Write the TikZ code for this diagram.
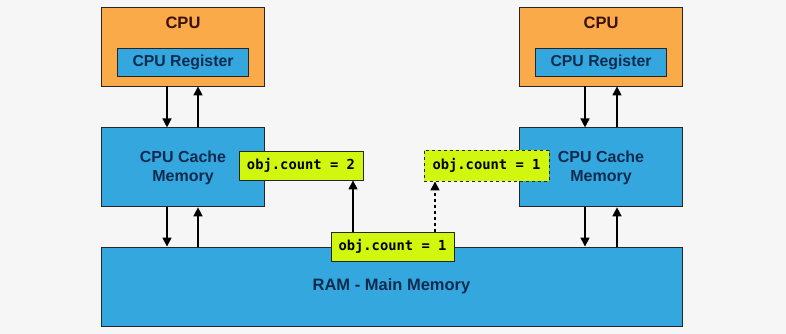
\documentclass[tikz,border=0pt]{standalone}
\usepackage{fontspec}
\setmainfont{Liberation Sans}
\newfontfamily\codefont{DejaVu Sans Mono}
\usetikzlibrary{positioning, arrows.meta}

\definecolor{bgray}{HTML}{F6F6F6}
\definecolor{cpuorange}{HTML}{FAAA48}
\definecolor{memblue}{HTML}{34A8DE}
\definecolor{codelime}{HTML}{D2F70F}
\definecolor{navy}{HTML}{0E2B4F}
\definecolor{maroon}{HTML}{3A1010}

\begin{document}
\begin{tikzpicture}[
    x=1pt, y=1pt,
    box/.style = {rectangle, draw=black!85, line width=0.9pt, align=center, inner sep=0pt},
    cpu/.style = {box, fill=cpuorange, minimum width=163pt, minimum height=79pt},
    mem/.style = {box, fill=memblue, text=navy, font=\fontsize{16}{19}\selectfont\bfseries},
    cache/.style = {mem, minimum width=163pt, minimum height=79pt},
    reg/.style = {mem, minimum width=131pt, minimum height=28pt, font=\fontsize{15.8}{18}\selectfont\bfseries},
    code/.style = {box, fill=codelime, minimum width=124pt, minimum height=29pt, font=\codefont\fontsize{13.8}{16}\selectfont\bfseries},
    arrow/.style = {-{Triangle[length=9pt, width=9pt]}, line width=1.5pt}
]
    \useasboundingbox[fill=bgray] (0,0) rectangle (786,334);

    % processors
    \node[cpu] (CPUL) at (183,287.5) {};
    \node[reg] (REGL) at (183,272) {CPU Register};
    \node[font=\fontsize{16.5}{18}\selectfont\bfseries, text=maroon] at (183,311) {CPU};

    \node[cpu] (CPUR) at (601,287.5) {};
    \node[reg] (REGR) at (601,272) {CPU Register};
    \node[font=\fontsize{16.5}{18}\selectfont\bfseries, text=maroon] at (601,311) {CPU};

    % caches and main memory
    \node[cache, below=41pt of CPUL] (CACHEL) {CPU Cache\\Memory};
    \node[cache, below=41pt of CPUR] (CACHER) {CPU Cache\\Memory};
    \node[mem, minimum width=581pt, minimum height=79pt, font=\fontsize{16.5}{19}\selectfont\bfseries] (RAM) at (391.5,47.5) {RAM - Main Memory};

    % copies of the shared value
    \node[code] (OBJL) at (301,168.5) {obj.count = 2};
    \node[code, dashed, minimum width=125pt, minimum height=31pt] (OBJR) at (486.5,168.5) {obj.count = 1};
    \node[code, minimum width=123pt] (OBJM) at (392.5,87.5) {obj.count = 1};

    \draw[arrow] ([xshift=-16pt]CPUL.south) -- ([xshift=-16pt]CACHEL.north);
    \draw[arrow] ([xshift=15pt]CACHEL.north) -- ([xshift=15pt]CPUL.south);
    \draw[arrow] ([xshift=-16pt]CPUR.south) -- ([xshift=-16pt]CACHER.north);
    \draw[arrow] ([xshift=16pt]CACHER.north) -- ([xshift=16pt]CPUR.south);

    \draw[arrow] ([xshift=-16pt]CACHEL.south) -- ([xshift=-16pt]CACHEL.south |- RAM.north);
    \draw[arrow] ([xshift=15pt]CACHEL.south |- RAM.north) -- ([xshift=15pt]CACHEL.south);
    \draw[arrow] ([xshift=-16pt]CACHER.south) -- ([xshift=-16pt]CACHER.south |- RAM.north);
    \draw[arrow] ([xshift=16pt]CACHER.south |- RAM.north) -- ([xshift=16pt]CACHER.south);

    \draw[arrow] ([xshift=-39.5pt]OBJM.north) -- ([xshift=-39.5pt]OBJM.north |- OBJL.south);
    \draw[arrow, dashed] ([xshift=42.5pt]OBJM.north) -- ([xshift=42.5pt]OBJM.north |- OBJR.south);
\end{tikzpicture}
\end{document}
